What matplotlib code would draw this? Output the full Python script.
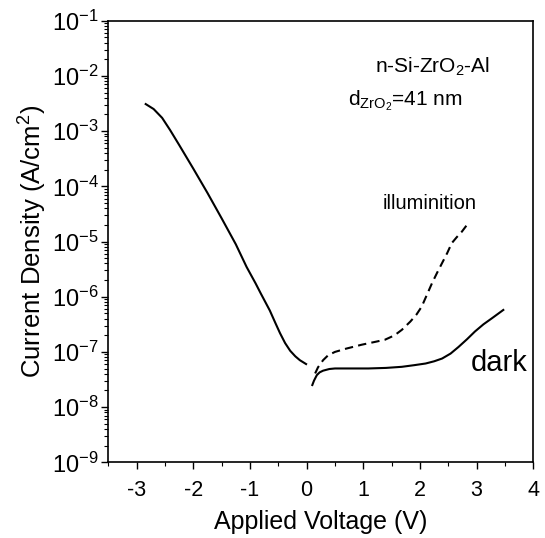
import matplotlib
matplotlib.use("Agg")
import matplotlib.pyplot as plt
import numpy as np
from matplotlib.ticker import LogLocator, MultipleLocator, NullFormatter

plt.rcParams['font.family'] = ['Liberation Sans', 'DejaVu Sans']
plt.rcParams['mathtext.fontset'] = 'custom'
plt.rcParams['mathtext.rm'] = 'Liberation Sans'
plt.rcParams['mathtext.it'] = 'Liberation Sans'
plt.rcParams['mathtext.default'] = 'regular'
plt.rcParams['axes.unicode_minus'] = False

# dark current, reverse bias branch (V, log10 J in A/cm2)
dark_neg_v = [-2.84, -2.70, -2.55, -2.41, -2.25, -2.00, -1.75, -1.50, -1.25, -1.06,
              -0.90, -0.81, -0.65, -0.55, -0.47, -0.38, -0.29, -0.20, -0.12, -0.01]
dark_neg_logj = [-2.51, -2.60, -2.76, -2.98, -3.25, -3.68, -4.12, -4.58, -5.05, -5.46,
                 -5.76, -5.94, -6.25, -6.48, -6.66, -6.84, -6.98, -7.08, -7.15, -7.22]

# dark current, forward bias branch
dark_pos_v = [0.10, 0.13, 0.18, 0.23, 0.29, 0.40, 0.50, 0.80, 1.09, 1.40, 1.68, 1.90,
              2.10, 2.25, 2.39, 2.54, 2.68, 2.83, 2.97, 3.12, 3.27, 3.47]
dark_pos_logj = [-7.60, -7.52, -7.42, -7.37, -7.34, -7.31, -7.30, -7.30, -7.30, -7.29, -7.27, -7.24,
                 -7.21, -7.17, -7.12, -7.03, -6.91, -6.77, -6.63, -6.50, -6.39, -6.24]

# under illumination
illum_v = [0.15, 0.20, 0.29, 0.38, 0.50, 0.70, 0.97, 1.20, 1.38, 1.55, 1.68, 1.83,
           1.94, 2.03, 2.12, 2.21, 2.30, 2.39, 2.48, 2.56, 2.65, 2.74, 2.85]
illum_logj = [-7.39, -7.28, -7.15, -7.06, -7.00, -6.94, -6.87, -6.82, -6.78, -6.70, -6.60, -6.45,
              -6.32, -6.18, -5.97, -5.76, -5.57, -5.39, -5.21, -5.03, -4.92, -4.82, -4.67]

fig = plt.figure(figsize=(5.45, 5.38), dpi=100)
ax = fig.add_axes([0.1987, 0.1407, 0.7799, 0.8208])

ax.plot(dark_neg_v, 10.0 ** np.array(dark_neg_logj), color='black', lw=1.5)
ax.plot(dark_pos_v, 10.0 ** np.array(dark_pos_logj), color='black', lw=1.5)
ax.plot(illum_v, 10.0 ** np.array(illum_logj), color='black', lw=1.5, dashes=(4, 2.5))

ax.set_yscale('log')
ax.set_xlim(-3.5, 4)
ax.set_ylim(1e-9, 1e-1)
ax.xaxis.set_major_locator(MultipleLocator(1))
ax.xaxis.set_minor_locator(MultipleLocator(0.5))
ax.yaxis.set_major_locator(LogLocator(base=10, numticks=20))
ax.yaxis.set_minor_locator(LogLocator(base=10, subs=range(2, 10), numticks=20))
ax.yaxis.set_minor_formatter(NullFormatter())

ax.tick_params(which='major', direction='out', length=5, width=1)
ax.tick_params(axis='x', which='major', pad=8, labelsize=15.5)
ax.tick_params(axis='y', which='major', pad=2, labelsize=17)
ax.tick_params(which='minor', direction='out', length=3, width=0.8)
for s in ax.spines.values():
    s.set_linewidth(1.2)

ax.set_xlabel('Applied Voltage (V)', fontsize=18, labelpad=6)
ax.set_ylabel('Current Density (A/cm$^2$)', fontsize=18.5, labelpad=2)

ax.text(0.762, 0.895, 'n-Si-ZrO$_2$-Al', transform=ax.transAxes, fontsize=15,
        ha='center', va='center')
ax.text(0.698, 0.82, 'd$_{ZrO_2}$=41 nm', transform=ax.transAxes, fontsize=15,
        ha='center', va='center')
ax.text(0.755, 0.587, 'illuminition', transform=ax.transAxes, fontsize=14.5,
        ha='center', va='center')
ax.text(0.987, 0.225, 'dark', transform=ax.transAxes, fontsize=21,
        ha='right', va='center')

fig.savefig('out.png', dpi=100)
